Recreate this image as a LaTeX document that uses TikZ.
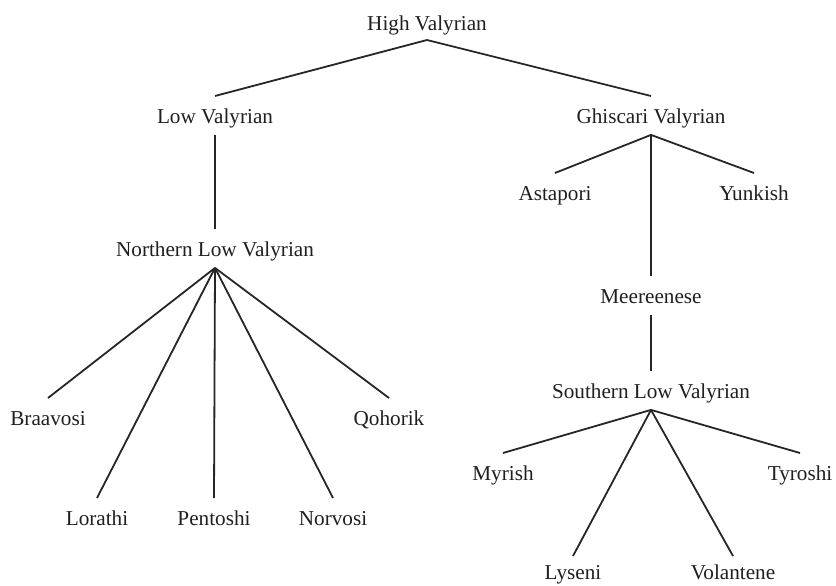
\documentclass[tikz,border=0pt]{standalone}
\usepackage{fontspec}
\setmainfont{Liberation Serif}
\begin{document}
\begin{tikzpicture}[x=1bp,y=-1bp,
  lang/.style={font=\fontsize{21.2bp}{24bp}\selectfont, text=black!88,
    text height=22bp, text depth=6.5bp, inner ysep=5bp, inner xsep=0pt},
  kid/.style={lang, anchor=north},
  low/.style={kid, text height=20bp, text depth=4.5bp, inner ysep=3bp},
  link/.style={line width=1.8bp, draw=black!85}]
\useasboundingbox (0,0) rectangle (836,586);
% root
\node[lang, text depth=4bp, inner ysep=5bp, anchor=south] (hv) at (427,40) {High Valyrian};
% level 1
\node[kid] (lv) at (215,96) {Low Valyrian};
\node[kid] (gv) at (651,96) {Ghiscari Valyrian};
% left branch
\node[kid] (nlv) at (215,229) {Northern Low Valyrian};
\node[kid] (bra) at (48,398) {Braavosi};
\node[kid] (qoh) at (389,398) {Qohorik};
\node[kid] (lor) at (97,498) {Lorathi};
\node[kid] (pen) at (214,498) {Pentoshi};
\node[kid] (nor) at (333,498) {Norvosi};
% right branch
\node[kid] (ast) at (555,173) {Astapori};
\node[kid] (yun) at (754,173) {Yunkish};
\node[kid] (mee) at (651,276) {Meereenese};
\node[kid] (slv) at (651,371) {Southern Low Valyrian};
\node[kid] (myr) at (503,453) {Myrish};
\node[kid] (tyr) at (800,453) {Tyroshi};
\node[low] (lys) at (573,556) {Lyseni};
\node[low] (vol) at (733,556) {Volantene};
% connectors
\draw[link] (hv.south) -- (lv.north);
\draw[link] (hv.south) -- (gv.north);
\draw[link] (lv.south) -- (nlv.north);
\foreach \c in {bra,qoh,lor,pen,nor} \draw[link] (nlv.south) -- (\c.north);
\foreach \c in {ast,yun,mee} \draw[link] (gv.south) -- (\c.north);
\draw[link] (mee.south) -- (slv.north);
\foreach \c in {myr,tyr,lys,vol} \draw[link] (slv.south) -- (\c.north);
\end{tikzpicture}
\end{document}
